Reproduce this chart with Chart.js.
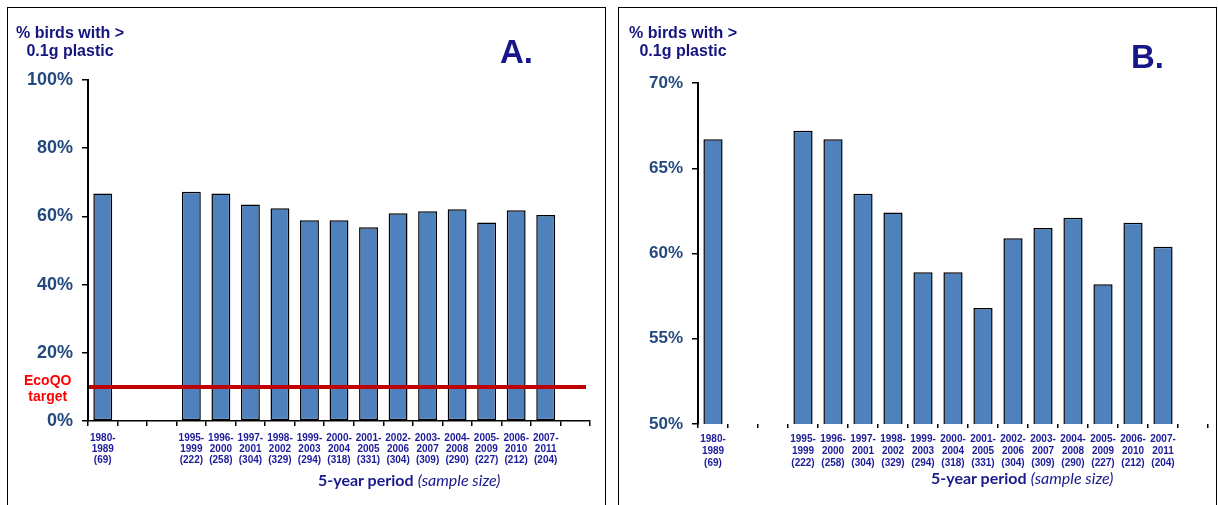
<!DOCTYPE html>
<html lang="en">
<head>
  <meta charset="UTF-8">
  <title>% birds with &gt; 0.1g plastic</title>
  <script src="https://cdn.jsdelivr.net/npm/chart.js"></script>
  <style>
    body {
      margin: 0;
      width: 1218px;
      height: 505px;
      background: #fff;
      position: relative;
      overflow: hidden;
      font-family: 'Liberation Sans', Arial, sans-serif;
    }
    .panel {
      position: absolute;
      top: 7px;
      height: 520px;
      border: 1.5px solid #000;
      box-sizing: border-box;
    }
    .wrap {
      position: absolute;
      top: 0;
    }
    .ytitle {
      position: absolute;
      color: #14147e;
      font-weight: bold;
      font-size: 16px;
      line-height: 18px;
      text-align: center;
    }
    .letter {
      position: absolute;
      color: #17178a;
      font-weight: bold;
      font-size: 33px;
    }
    .xtitle {
      position: absolute;
      color: #1a1a8c;
      font-family: Lato, 'Open Sans', sans-serif;
      font-size: 16px;
      white-space: nowrap;
    }
    .xtitle b { font-weight: bold; }
    .xtitle i { font-weight: normal; }
    .eco {
      position: absolute;
      color: #ff0000;
      font-weight: bold;
      font-size: 14px;
      line-height: 16px;
      text-align: center;
    }
  </style>
</head>
<body>
  <div class="panel" style="left:7px; width:599px;"></div>
  <div class="panel" style="left:618px; width:599px;"></div>

  <div class="wrap" style="left:0; width:610px; height:505px;">
    <canvas id="chartA" width="610" height="505"></canvas>
  </div>
  <div class="wrap" style="left:610px; width:608px; height:505px;">
    <canvas id="chartB" width="608" height="505"></canvas>
  </div>

  <div class="ytitle" style="left:16px; top:24px;">% birds with &gt;<br>0.1g plastic</div>
  <div class="ytitle" style="left:629px; top:24px;">% birds with &gt;<br>0.1g plastic</div>
  <div class="letter" style="left:500px; top:33px;">A.</div>
  <div class="letter" style="left:1131px; top:38px;">B.</div>
  <div class="eco" style="left:24px; top:372px;">EcoQO<br>target</div>
  <div class="xtitle" style="left:318px; top:470px;"><b>5-year period</b> <i>(sample size)</i></div>
  <div class="xtitle" style="left:931px; top:468px;"><b>5-year period</b> <i>(sample size)</i></div>

  <script>
    // 5-year windows, blanks keep the gap between 1989 and 1995
    const periods = ['1980-1989', '', '', '1995-1999', '1996-2000', '1997-2001', '1998-2002',
      '1999-2003', '2000-2004', '2001-2005', '2002-2006', '2003-2007', '2004-2008',
      '2005-2009', '2006-2010', '2007-2011', ''];
    const sampleSizes = [69, null, null, 222, 258, 304, 329, 294, 318, 331, 304, 309, 290, 227, 212, 204, null];
    const pctPlastic = [66.7, null, null, 67.2, 66.7, 63.5, 62.4, 58.9, 58.9, 56.8, 60.9, 61.5, 62.1, 58.2, 61.8, 60.4, null];
    const ecoTarget = 10;

    const ticksA = [0, 20, 40, 60, 80, 100];
    const ticksB = [50, 55, 60, 65, 70];

    const labels = periods.map((p, i) => {
      if (!p) return ['', '', ''];
      const [a, b] = p.split('-');
      return [a + '-', b, '(' + sampleSizes[i] + ')'];
    });

    const ecoLine = {
      id: 'ecoLine',
      afterDatasetsDraw(chart, args, opts) {
        if (!opts.show) return;
        const { ctx, chartArea } = chart;
        const y = chart.scales.y.getPixelForValue(ecoTarget);
        ctx.save();
        ctx.strokeStyle = '#c00000';
        ctx.lineWidth = 4;
        ctx.beginPath();
        ctx.moveTo(chartArea.left + 1, y);
        ctx.lineTo(chartArea.right - 4, y);
        ctx.stroke();
        ctx.restore();
      }
    };

    function makeChart(id, yTicks, tickFont, pad, xHeight, o) {
      return new Chart(document.getElementById(id), {
        type: 'bar',
        data: {
          labels: labels,
          datasets: [{
            data: pctPlastic,
            backgroundColor: '#4f81bd',
            borderColor: '#000',
            borderWidth: 1.5,
            borderSkipped: false,
            barPercentage: 0.64,
            categoryPercentage: 1
          }]
        },
        plugins: [ecoLine],
        options: {
          responsive: false,
          animation: false,
          layout: { padding: pad },
          plugins: {
            legend: { display: false },
            tooltip: { enabled: false },
            ecoLine: { show: o.eco }
          },
          scales: {
            x: {
              afterFit(s) { s.height = xHeight; },
              grid: { display: true, drawOnChartArea: false, color: '#000', lineWidth: 1.5, tickLength: o.xTick, offset: true },
              border: { display: o.xLine, color: '#000', width: 1.5 },
              ticks: {
                autoSkip: false,
                maxRotation: 0,
                minRotation: 0,
                padding: o.xPad,
                color: '#1b1b9b',
                font: { family: 'Liberation Sans', size: 10, weight: 'bold', lineHeight: o.lh }
              }
            },
            y: {
              min: yTicks[0],
              max: yTicks[yTicks.length - 1],
              afterFit(s) { s.width = 88; },
              afterBuildTicks(s) { s.ticks = yTicks.map(v => ({ value: v })); },
              grid: { display: true, drawOnChartArea: false, color: '#000', lineWidth: 1.5, tickLength: 6 },
              border: { display: true, color: '#000', width: 2 },
              ticks: {
                padding: 9,
                color: '#24497e',
                font: tickFont,
                callback: v => v + '%'
              }
            }
          }
        }
      });
    }

    makeChart('chartA', ticksA,
      { family: 'Liberation Sans', size: 18, weight: 'bold' },
      { top: 80, right: 20, left: 0, bottom: 0 }, 84,
      { eco: true, xLine: true, xTick: 5, xPad: 7, lh: 1.1 });
    makeChart('chartB', ticksB,
      { family: 'Liberation Sans', size: 17, weight: 'bold' },
      { top: 83, right: 10, left: 0, bottom: 0 }, 81,
      { eco: false, xLine: false, xTick: 4, xPad: 5, lh: 1.2 });
  </script>
</body>
</html>
